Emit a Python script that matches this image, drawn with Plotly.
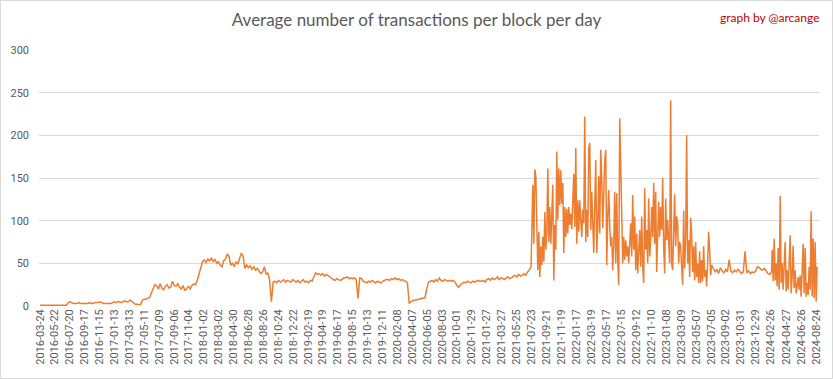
import pandas as pd
import plotly.graph_objects as go

# ---- data ----
# weekly readings
w2016_start = "2016-03-24"
w2016 = [1, 1, 1, 1, 1, 1, 1, 1, 1, 1, 1, 1, 1, 1, 1, 1,
         4, 5, 4, 3, 3, 3, 4, 3, 3, 3, 3, 3, 4, 3, 3, 4, 4, 4, 5, 4, 3, 3, 3, 3, 3]
w2017_start = "2017-01-05"
w2017 = [4, 5, 4, 5, 5, 4, 5, 6, 5, 5, 7, 5,
         3, 2, 2, 1.5, 2, 7,
         8, 8, 9, 10, 15, 20, 25,
         24, 20, 26, 21, 19, 23, 25, 21, 22, 29, 24, 23, 26, 22, 20, 24, 18, 21, 23, 20, 24, 26, 25,
         30, 38, 47, 52]
w2018_start = "2018-01-04"
w2018 = [54, 51, 55, 53, 56, 52, 55, 50, 52, 48, 46, 53, 55, 61, 58,
         48, 50, 46, 52, 49, 56, 62, 58,
         44, 48, 45, 47, 43, 46, 42, 44, 41,
         38, 40, 46, 37, 39, 30, 5, 28,
         29, 27, 30, 28, 29, 31, 28, 30, 29, 28, 31, 29]
w2019_start = "2019-01-03"
w2019 = [28, 30, 27, 29, 31, 28, 29, 27, 30, 29, 35,
         39, 37, 38, 36, 38, 35, 37, 36, 34,
         32, 31, 30, 32, 31, 30, 31, 33,
         33, 34, 32, 33, 32, 33, 31, 9, 33, 32,
         29, 28, 27, 29, 28, 30, 28, 27, 29, 28, 27, 29, 30, 31]
w2020_start = "2020-01-02"
w2020 = [31, 30, 32, 31, 33, 31, 32, 30, 31, 30, 29, 27, 3,
         5, 6, 7, 7, 8, 8, 9, 9, 10, 21, 28,
         29, 30, 28, 31, 29, 33, 30, 29, 31, 30, 29,
         30, 29, 30, 28, 24, 22, 25,
         27, 28, 27, 29, 28, 27, 29, 28, 29, 30, 29]
w2021_start = "2021-01-07"
w2021 = [29, 30, 28, 31, 32, 30, 33, 31, 32, 34, 31, 33, 32, 31, 33, 34, 32, 33,
         35, 36, 34, 37, 35, 36, 38, 36, 40, 42, 46]

# dense readings (about one per pixel column)
d_start_a = "2021-07-25"
d2021 = [87, 142, 73, 160, 152, 70, 42, 87, 34, 70, 48, 81, 52, 110, 66, 87, 161, 75, 116, 73,
         108, 142, 30, 95, 66, 181, 101, 161, 118, 159, 120, 144, 62, 116, 81, 114, 85, 116, 95, 108]
d2022 = [90, 136, 155, 93, 185, 73, 124, 87, 124, 101, 81, 113, 97, 222, 75, 113, 81, 185, 191, 89,
         134, 97, 62, 120, 171, 62, 93, 152, 85, 183, 152, 91, 150, 171, 183, 48, 105, 136, 93, 70,
         81, 42, 73, 134, 50, 132, 54, 25, 220, 132, 109, 50, 81, 54, 77, 58, 70, 50, 70, 97,
         58, 130, 66, 105, 42, 85, 38, 75, 89, 46, 105, 46, 27, 138, 66, 89, 50, 126, 58, 77,
         116, 81, 144, 73, 134, 40, 95, 122, 81, 116, 89, 150, 70]
d2023 = [38, 126, 77, 101, 70, 50, 241, 50, 42, 81, 131, 70, 105, 97, 50, 75, 70, 46, 25, 112,
         44, 77, 200, 50, 77, 34, 103, 85, 40, 70, 30, 75, 34, 50, 27, 64, 27, 54, 29, 70,
         34, 42, 23, 50, 87, 66, 36, 48]
# calm stretch, weekly
w2023_start = "2023-07-14"
w2023 = [44, 40, 43, 38, 45, 41, 39, 43, 40, 54, 41, 39, 42, 40, 43, 41, 38, 40, 64, 39,
         41, 38, 40, 39, 41, 46, 45, 43, 42, 44, 41, 38, 37, 40]
# 2024 dense readings
d_start_b = "2024-03-03 12:00"
d2024 = [66, 29, 79, 30, 50, 23, 68, 19, 129, 27, 50, 19, 48, 75, 17, 42, 19, 50, 83, 15,
         34, 71, 21, 42, 15, 23, 34, 19, 36, 11, 54, 73, 15, 68, 11, 27, 13, 46, 19, 111,
         11, 79, 9, 75, 5, 46]

tick_labels = [
    "2016-03-24", "2016-05-22", "2016-07-20", "2016-09-17", "2016-11-15",
    "2017-01-13", "2017-03-13", "2017-05-11", "2017-07-09", "2017-09-06", "2017-11-04",
    "2018-01-02", "2018-03-02", "2018-04-30", "2018-06-28", "2018-08-26", "2018-10-24", "2018-12-22",
    "2019-02-19", "2019-04-19", "2019-06-17", "2019-08-15", "2019-10-13", "2019-12-11",
    "2020-02-08", "2020-04-07", "2020-06-05", "2020-08-03", "2020-10-01", "2020-11-29",
    "2021-01-27", "2021-03-27", "2021-05-25", "2021-07-23", "2021-09-21", "2021-11-19",
    "2022-01-17", "2022-03-19", "2022-05-17", "2022-07-15", "2022-09-12", "2022-11-10",
    "2023-01-08", "2023-03-09", "2023-05-07", "2023-07-05", "2023-09-02", "2023-10-31", "2023-12-29",
    "2024-02-26", "2024-04-27", "2024-06-26", "2024-08-24",
]

title_text = "Average number of transactions per block per day"
credit_text = "graph by @arcange"

# ---- build series ----
xs, ys = [], []
for start, vals in [(w2016_start, w2016), (w2017_start, w2017), (w2018_start, w2018),
                    (w2019_start, w2019), (w2020_start, w2020), (w2021_start, w2021)]:
    xs += list(pd.date_range(start, periods=len(vals), freq="7D"))
    ys += vals
dense_a = d2021 + d2022 + d2023
xs += list(pd.date_range(d_start_a, periods=len(dense_a), freq="95h"))
ys += dense_a
xs += list(pd.date_range(w2023_start, periods=len(w2023), freq="7D"))
ys += w2023
xs += list(pd.date_range(d_start_b, periods=len(d2024), freq="95h"))
ys += d2024

fig = go.Figure()
fig.add_trace(go.Scatter(x=xs, y=ys, mode="lines",
                         line=dict(color="#ED7D31", width=1.5), hoverinfo="skip"))

L, R, T, B = 39, 14, 50, 73
W, H = 833, 379
pw, ph = W - L - R, H - T - B

fig.update_layout(
    width=W, height=H,
    margin=dict(l=L, r=R, t=T, b=B, pad=0, autoexpand=False),
    paper_bgcolor="white", plot_bgcolor="white",
    showlegend=False,
    title=dict(text=title_text, x=(W / 2 - L) / pw, xref="paper", xanchor="center",
               y=1 - 20 / H, yref="container", yanchor="middle",
               font=dict(family="Lato", size=17, color="#595959")),
    font=dict(family="Roboto", size=11, color="#595959"),
)

fig.update_xaxes(
    type="date",
    range=["2016-03-20", "2024-09-05"],
    tickmode="array", tickvals=tick_labels, ticktext=tick_labels,
    tickangle=-90, ticks="", showgrid=False, zeroline=False,
    showline=False,
    tickfont=dict(family="Roboto", size=11, color="#595959"),
)
fig.update_yaxes(
    range=[0, 300], dtick=50, tick0=0,
    showgrid=True, gridcolor="#D9D9D9", gridwidth=1,
    zeroline=False, ticks="", ticklabelstandoff=9,
    tickfont=dict(family="Roboto", size=11, color="#595959"),
)

fig.add_annotation(text=credit_text, xref="paper", yref="paper",
                   x=(822 - L) / pw, y=(306 - 17) / ph, xanchor="right", yanchor="middle",
                   showarrow=False, font=dict(family="Lato", size=12, color="#C00000"))

fig.add_shape(type="rect", xref="paper", yref="paper",
              x0=(0.5 - L) / pw, x1=(W - 0.5 - L) / pw,
              y0=(306 - (H - 0.5)) / ph, y1=(306 - 0.5) / ph,
              line=dict(color="#D9D9D9", width=1), fillcolor="rgba(0,0,0,0)", layer="below")

fig.write_html("out.html", config={"displayModeBar": False},
               post_script="document.body.style.margin='0px';document.body.style.overflow='hidden';")
